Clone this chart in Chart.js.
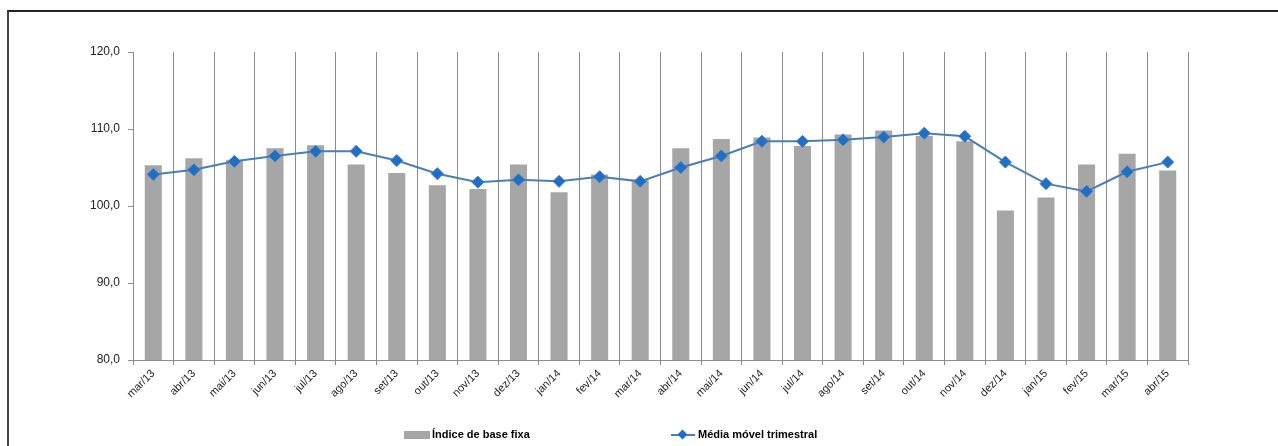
<!DOCTYPE html>
<html>
<head>
<meta charset="utf-8">
<script src="https://cdn.jsdelivr.net/npm/chart.js@4"></script>
<style>
    html, body { margin: 0; padding: 0; background: #fff; }
    body { width: 1278px; height: 446px; position: relative; overflow: hidden; font-family: 'Liberation Sans', Arial, sans-serif; }
    .frame { position: absolute; left: 7px; top: 10px; width: 1400px; height: 600px; border-left: 2px solid #444; border-top: 2px solid #222; }
    .chart-box { position: absolute; left: 0; top: 0; width: 1278px; height: 446px; }
    .legend { position: absolute; top: 428px; font-size: 11px; font-weight: bold; color: #000; white-space: nowrap; }
    .legend-bar { position: absolute; left: 404px; top: 431px; width: 26px; height: 8px; background: #a6a6a6; }
    .legend-line { position: absolute; left: 671px; top: 434px; width: 24px; height: 2px; background: #4a7ebb; }
    .legend-dot { position: absolute; left: 679px; top: 431px; width: 7px; height: 7px; background: #1f6fc5; transform: rotate(45deg); }
</style>
</head>
<body>
<div class="frame"></div>
<div class="chart-box"><canvas id="indexChart"></canvas></div>
<div class="legend-bar"></div>
<div class="legend" style="left: 432px;">Índice de base fixa</div>
<div class="legend-line"></div>
<div class="legend-dot"></div>
<div class="legend" style="left: 698px;">Média móvel trimestral</div>

<script>
// Values
const months = ['mar/13', 'abr/13', 'mai/13', 'jun/13', 'jul/13', 'ago/13', 'set/13', 'out/13', 'nov/13', 'dez/13',
    'jan/14', 'fev/14', 'mar/14', 'abr/14', 'mai/14', 'jun/14', 'jul/14', 'ago/14', 'set/14', 'out/14', 'nov/14', 'dez/14',
    'jan/15', 'fev/15', 'mar/15', 'abr/15'];

const fixedIndex = [105.3, 106.2, 106.0, 107.5, 107.9, 105.4, 104.3, 102.7, 102.2, 105.4,
    101.8, 104.1, 103.4, 107.5, 108.7, 108.9, 107.8, 109.3, 109.8, 109.1, 108.4, 99.4,
    101.1, 105.4, 106.8, 104.6];

const movingAverage = [104.1, 104.7, 105.8, 106.5, 107.1, 107.1, 105.9, 104.2, 103.1, 103.4,
    103.2, 103.8, 103.2, 105.0, 106.5, 108.4, 108.4, 108.6, 108.95, 109.45, 109.05, 105.7,
    102.9, 101.9, 104.45, 105.7];

const yTicks = [80, 90, 100, 110, 120];

const ctx = document.getElementById('indexChart');
new Chart(ctx, {
    type: 'bar',
    data: {
        labels: months,
        datasets: [
            {
                type: 'line',
                label: 'Média móvel trimestral',
                data: movingAverage,
                borderColor: '#4a7ebb',
                borderWidth: 2,
                backgroundColor: '#1f6fc5',
                pointStyle: 'rectRot',
                pointRadius: 6,
                pointBorderColor: '#3a7bc8',
                pointBorderWidth: 1,
                tension: 0,
                order: 0
            },
            {
                label: 'Índice de base fixa',
                data: fixedIndex,
                backgroundColor: '#a6a6a6',
                barPercentage: 0.42,
                categoryPercentage: 1,
                order: 1
            }
        ]
    },
    options: {
        responsive: true,
        maintainAspectRatio: false,
        animation: false,
        layout: {
            padding: { left: 0, top: 52, right: 90, bottom: 0 }
        },
        plugins: {
            legend: { display: false },
            tooltip: { enabled: false }
        },
        scales: {
            x: {
                grid: {
                    offset: true,
                    color: '#8c8c8c',
                    lineWidth: 1,
                    drawTicks: true,
                    tickLength: 5
                },
                border: { color: '#8c8c8c' },
                ticks: {
                    color: '#222',
                    font: { family: 'Liberation Sans', size: 11 },
                    minRotation: 45,
                    maxRotation: 45,
                    padding: 2,
                    autoSkip: false
                },
                afterFit: function(scale) {
                    scale.height = 86;
                }
            },
            y: {
                min: 80,
                max: 120,
                afterBuildTicks: function(scale) {
                    scale.ticks = yTicks.map(v => ({ value: v }));
                },
                grid: {
                    drawOnChartArea: false,
                    drawTicks: true,
                    tickLength: 5,
                    color: '#8c8c8c'
                },
                border: { color: '#8c8c8c' },
                ticks: {
                    color: '#222',
                    font: { family: 'Liberation Sans', size: 12 },
                    padding: 8,
                    callback: function(value) {
                        return value.toFixed(1).replace('.', ',');
                    }
                },
                afterFit: function(scale) {
                    scale.width = 133;
                }
            }
        }
    }
});
</script>
</body>
</html>
